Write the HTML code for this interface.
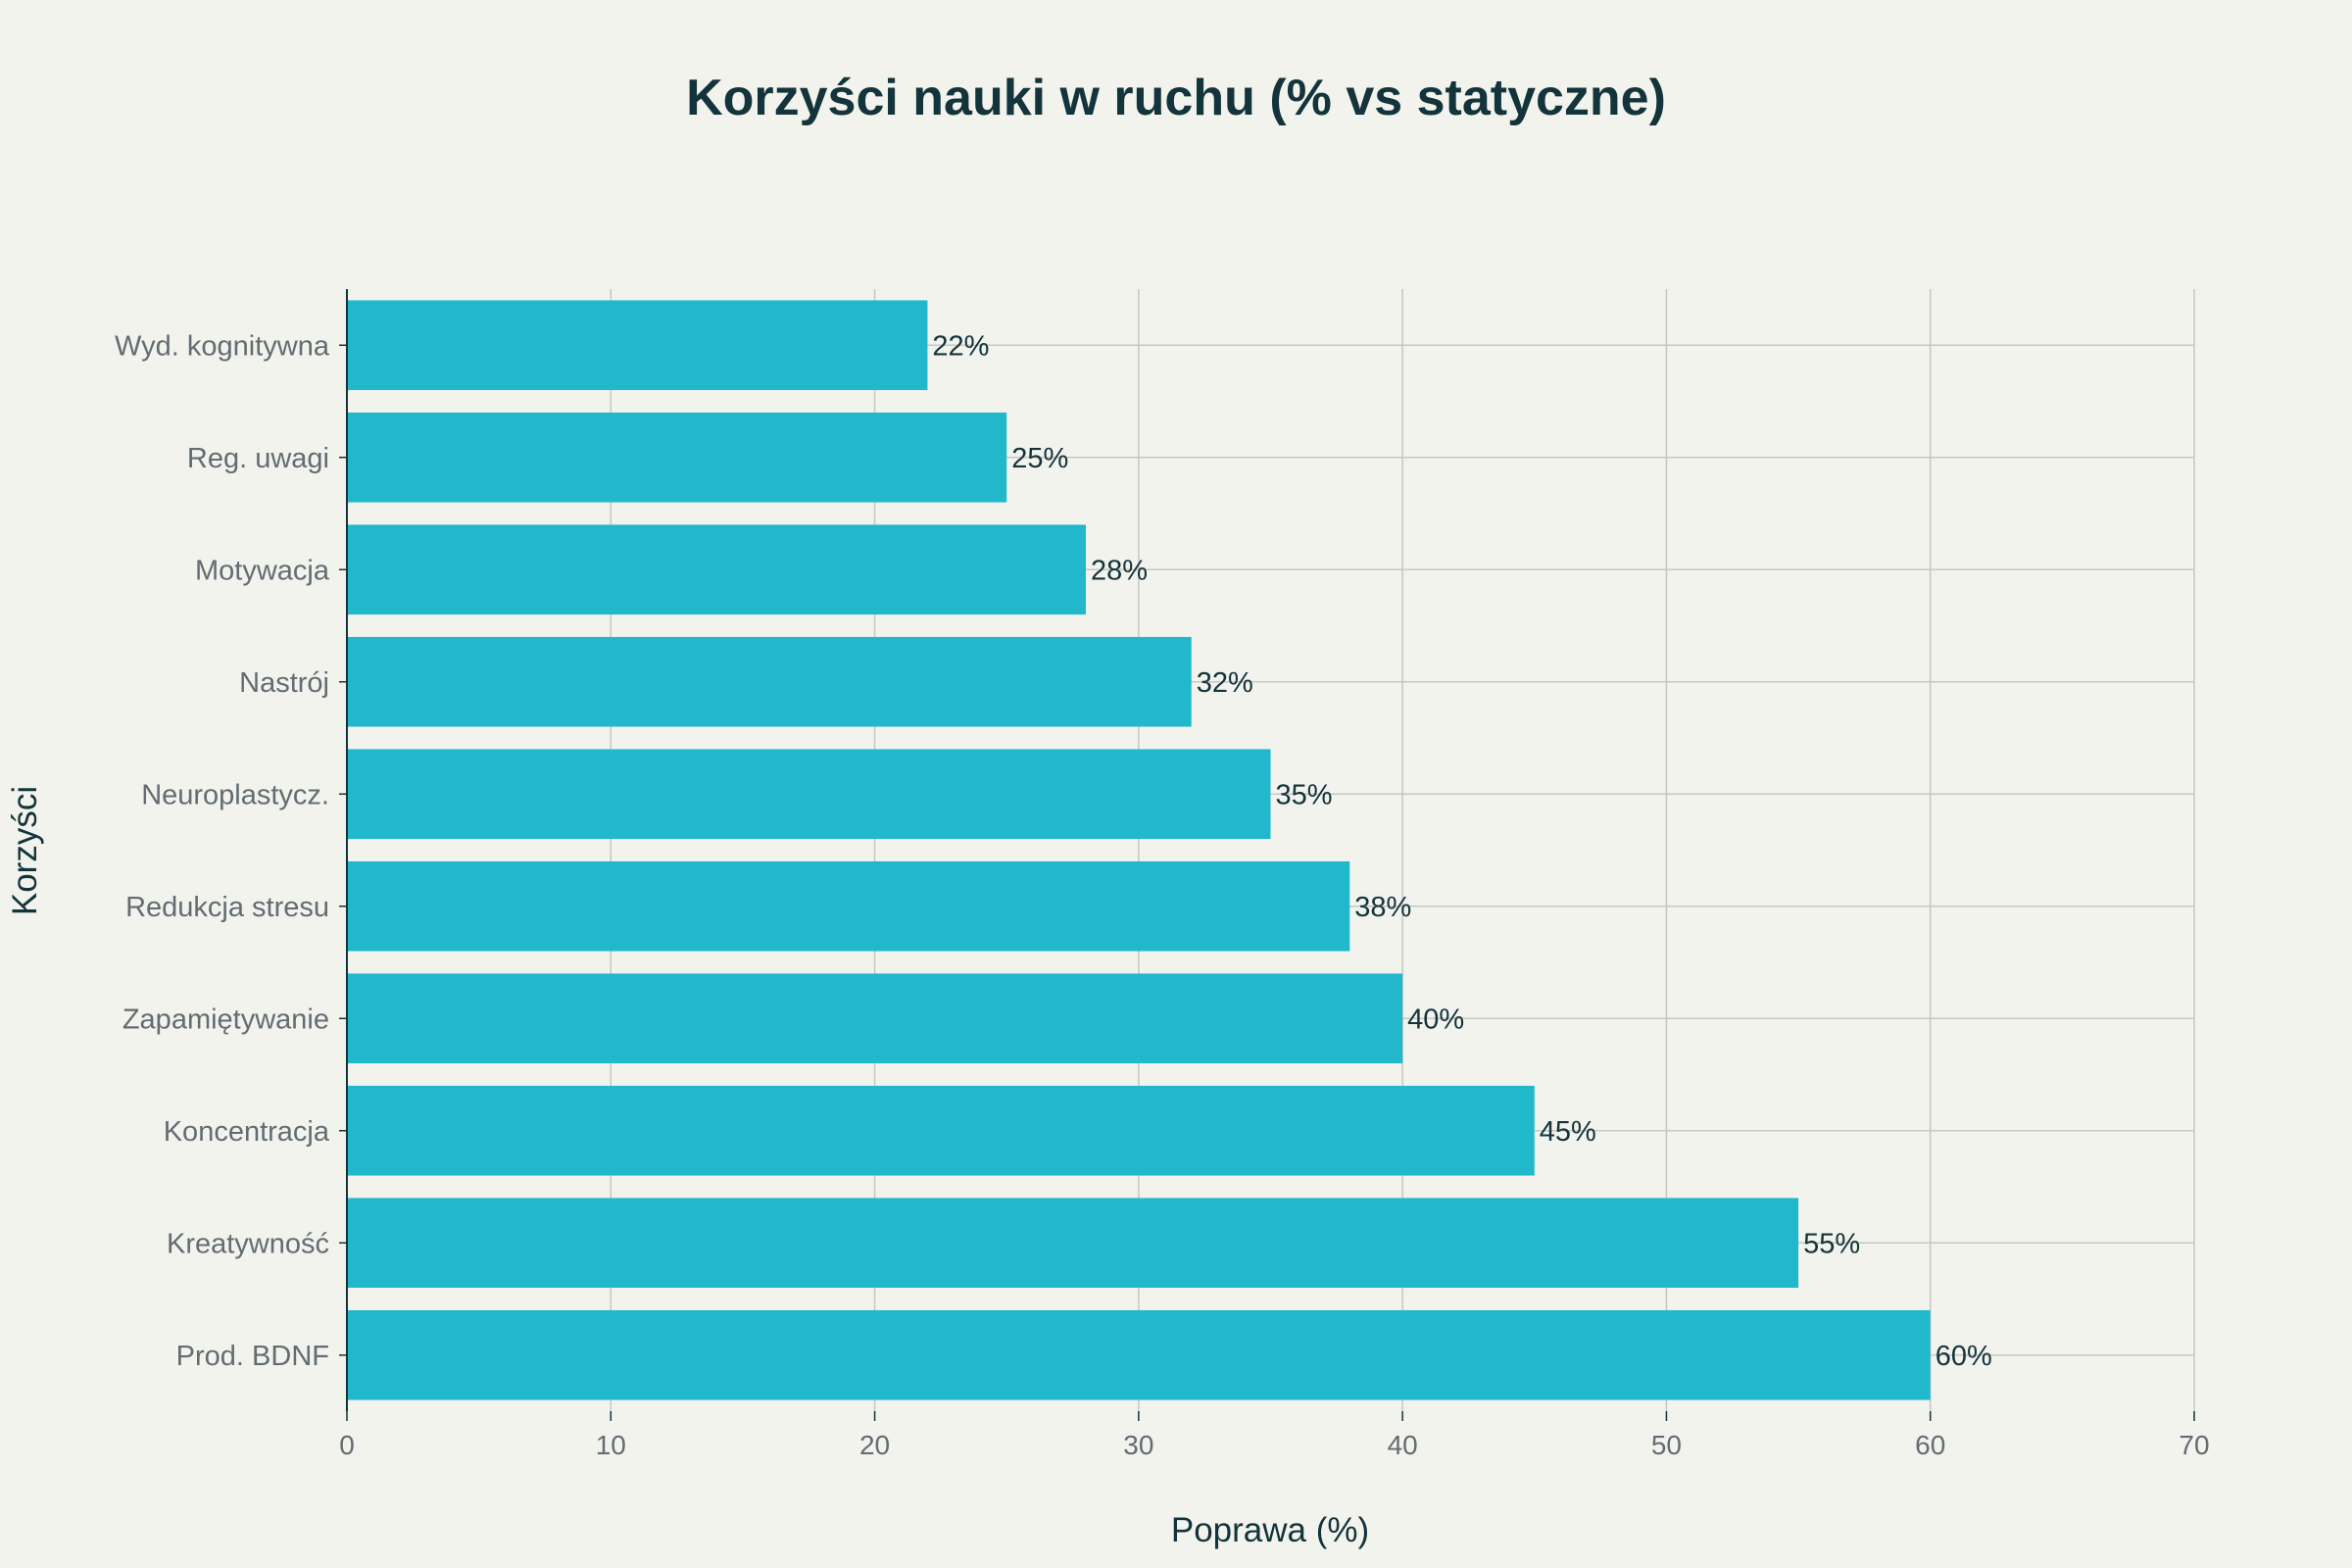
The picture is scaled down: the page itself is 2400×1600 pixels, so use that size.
<!DOCTYPE html>
<html><head><meta charset="utf-8"><style>
html,body{margin:0;padding:0;background:#f3f3ee;}
svg{display:block;font-family:"Liberation Sans",sans-serif;}
</style></head><body>
<svg id="chart" width="2400" height="1600" viewBox="0 0 2400 1600" xmlns="http://www.w3.org/2000/svg">
<rect width="2400" height="1600" fill="#f3f3ee"/>
<text x="1200" y="117" text-anchor="middle" font-size="52" font-weight="bold" fill="#13343b">Korzyści nauki w ruchu (% vs statyczne)</text>
<g id="grid"></g><g id="bars"></g><g id="labels"></g><g id="xticks"></g><g id="yticks"></g>
<line x1="354" y1="295" x2="354" y2="1440" stroke="#13343b" stroke-width="2"/>
<text x="1296" y="1573" text-anchor="middle" font-size="35" fill="#13343b">Poprawa (%)</text>
<text transform="translate(37,868) rotate(-90)" text-anchor="middle" font-size="35" fill="#13343b">Korzyści</text>
</svg>
<script>
const categories=["Wyd. kognitywna","Reg. uwagi","Motywacja","Nastrój","Neuroplastycz.","Redukcja stresu","Zapamiętywanie","Koncentracja","Kreatywność","Prod. BDNF"];
const values=[22,25,28,32,35,38,40,45,55,60];
const xTicks=[0,10,20,30,40,50,60,70];
const NS="http://www.w3.org/2000/svg";
const L=354,R=2239,T=295,B=1440,XMAX=70;
const x=v=>L+(R-L)*v/XMAX;
const band=(B-T)/categories.length;
const yc=i=>T+band*(i+0.5);
function mk(tag,attrs,parent){const e=document.createElementNS(NS,tag);for(const k in attrs)e.setAttribute(k,attrs[k]);document.getElementById(parent).appendChild(e);return e;}
xTicks.forEach(t=>{
  if(t>0){const g=mk('line',{x1:x(t),x2:x(t),y1:T,y2:B,stroke:'#c8c8c2','stroke-width':1.5},'grid');
  
  }
  const tk=mk('line',{x1:x(t),x2:x(t),y1:B,y2:B+10,stroke:'#13343b','stroke-width':1.5},'xticks');
  
  
  const tl=mk('text',{x:x(t),y:B+44,'text-anchor':'middle','font-size':28,fill:'#626c71'},'xticks');
  tl.textContent=t;
  
  
});
categories.forEach((c,i)=>{
  const gl=mk('line',{x1:L,x2:R,y1:yc(i),y2:yc(i),stroke:'#c8c8c2','stroke-width':1.5},'grid');
  
  
  const bh=band*0.8;
  const b=mk('rect',{x:L,y:yc(i)-bh/2,width:x(values[i])-L,height:bh,fill:'#21b8cc'},'bars');
  
  
  const vl=mk('text',{x:x(values[i])+5,y:yc(i)+10,'font-size':29,fill:'#13343b'},'labels');
  vl.textContent=values[i]+'%';
  
  
  const yl=mk('text',{x:L-18,y:yc(i)+10,'text-anchor':'end','font-size':29,fill:'#626c71'},'yticks');
  yl.textContent=c;
  
  
  const ytk=mk('line',{x1:L-8,x2:L,y1:yc(i),y2:yc(i),stroke:'#13343b','stroke-width':1.5},'yticks');
  
  
});
</script>
</body></html>
